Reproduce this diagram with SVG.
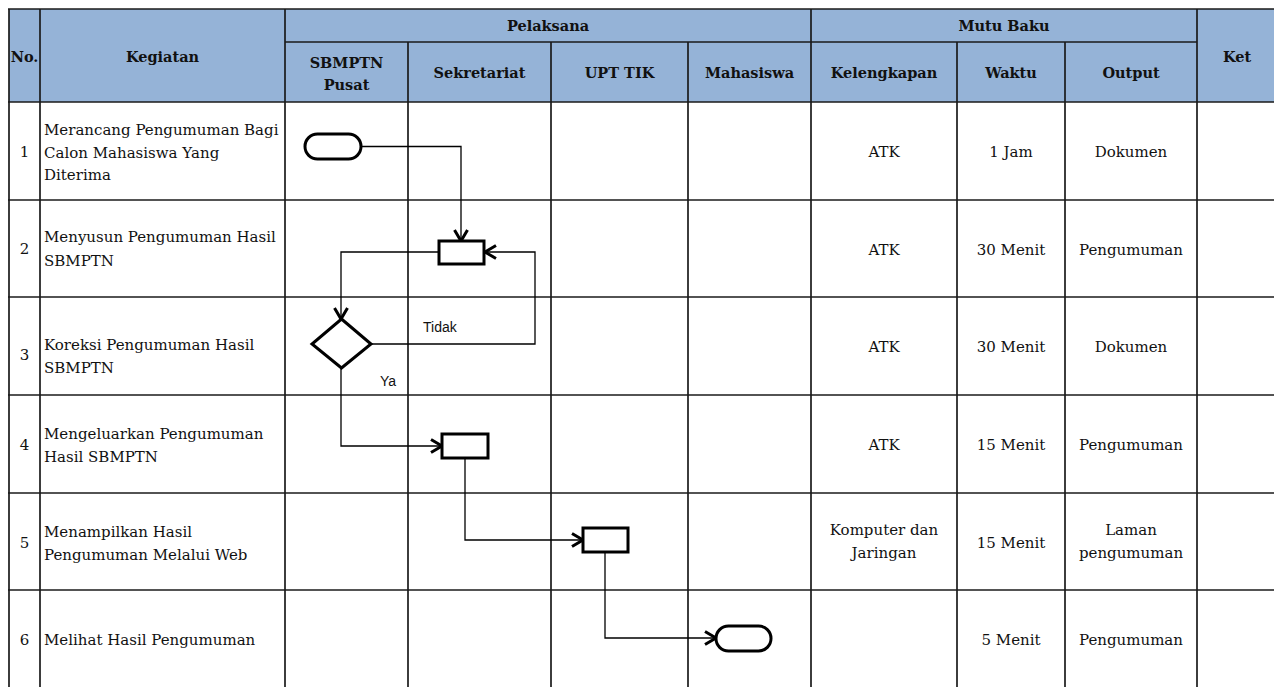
<svg xmlns="http://www.w3.org/2000/svg" width="1274" height="687" viewBox="0 0 1274 687">
<style>
.grid line{stroke:#1a1a1a;stroke-width:1.7}
.hd{font-family:"DejaVu Serif","Liberation Serif",serif;font-weight:bold;font-size:14.5px;fill:#111;text-anchor:middle}
.tx{font-family:"DejaVu Serif","Liberation Serif",serif;font-size:15px;fill:#111}
.c{text-anchor:middle}
.shape{fill:#fff;stroke:#000;stroke-width:3}
.conn path{fill:none;stroke:#000;stroke-width:1.3}
.lbl{font-family:"Liberation Sans",Arial,sans-serif;font-size:14px;fill:#111}
</style>
<defs>
<marker id="arr" markerUnits="userSpaceOnUse" markerWidth="16" markerHeight="16" refX="13" refY="8" orient="auto" overflow="visible">
<path d="M2,1.5 L13,8 L2,14.5" fill="none" stroke="#000" stroke-width="3" stroke-linejoin="miter"/>
</marker>
</defs>
<rect x="0" y="0" width="1274" height="687" fill="#fff"/>
<rect x="9" y="9" width="1265" height="93" fill="#95B3D7"/>
<g class="grid">
<line x1="8" y1="9" x2="1274" y2="9"/>
<line x1="285" y1="42" x2="1197" y2="42"/>
<line x1="8" y1="102" x2="1274" y2="102"/>
<line x1="8" y1="200" x2="1274" y2="200"/>
<line x1="8" y1="297" x2="1274" y2="297"/>
<line x1="8" y1="395" x2="1274" y2="395"/>
<line x1="8" y1="493" x2="1274" y2="493"/>
<line x1="8" y1="590" x2="1274" y2="590"/>
<line x1="9" y1="9" x2="9" y2="687"/>
<line x1="40" y1="9" x2="40" y2="687"/>
<line x1="285" y1="9" x2="285" y2="687"/>
<line x1="408" y1="42" x2="408" y2="687"/>
<line x1="551" y1="42" x2="551" y2="687"/>
<line x1="688" y1="42" x2="688" y2="687"/>
<line x1="811" y1="9" x2="811" y2="687"/>
<line x1="957" y1="42" x2="957" y2="687"/>
<line x1="1065" y1="42" x2="1065" y2="687"/>
<line x1="1197" y1="9" x2="1197" y2="687"/>
</g>
<g id="header">
<text class="hd" x="24.5" y="62">No.</text>
<text class="hd" x="162.5" y="62">Kegiatan</text>
<text class="hd" x="548" y="31">Pelaksana</text>
<text class="hd" x="1004" y="31">Mutu Baku</text>
<text class="hd" x="1237" y="62">Ket</text>
<text class="hd" x="346.5" y="68">SBMPTN</text>
<text class="hd" x="346.5" y="90">Pusat</text>
<text class="hd" x="479.5" y="78">Sekretariat</text>
<text class="hd" x="619.5" y="78">UPT TIK</text>
<text class="hd" x="749.5" y="78">Mahasiswa</text>
<text class="hd" x="884" y="78">Kelengkapan</text>
<text class="hd" x="1011" y="78">Waktu</text>
<text class="hd" x="1131" y="78">Output</text>
</g>
<g id="rows">
<text class="tx c" x="24.5" y="157">1</text>
<text class="tx" x="44" y="135">Merancang Pengumuman Bagi</text>
<text class="tx" x="44" y="158">Calon Mahasiswa Yang</text>
<text class="tx" x="44" y="180">Diterima</text>
<text class="tx c" x="884" y="157">ATK</text>
<text class="tx c" x="1011" y="157">1 Jam</text>
<text class="tx c" x="1131" y="157">Dokumen</text>

<text class="tx c" x="24.5" y="254">2</text>
<text class="tx" x="44" y="242">Menyusun Pengumuman Hasil</text>
<text class="tx" x="44" y="266">SBMPTN</text>
<text class="tx c" x="884" y="255">ATK</text>
<text class="tx c" x="1011" y="255">30 Menit</text>
<text class="tx c" x="1131" y="255">Pengumuman</text>

<text class="tx c" x="24.5" y="360">3</text>
<text class="tx" x="44" y="350">Koreksi Pengumuman Hasil</text>
<text class="tx" x="44" y="373">SBMPTN</text>
<text class="tx c" x="884" y="352">ATK</text>
<text class="tx c" x="1011" y="352">30 Menit</text>
<text class="tx c" x="1131" y="352">Dokumen</text>

<text class="tx c" x="24.5" y="450">4</text>
<text class="tx" x="44" y="439">Mengeluarkan Pengumuman</text>
<text class="tx" x="44" y="462">Hasil SBMPTN</text>
<text class="tx c" x="884" y="450">ATK</text>
<text class="tx c" x="1011" y="450">15 Menit</text>
<text class="tx c" x="1131" y="450">Pengumuman</text>

<text class="tx c" x="24.5" y="548">5</text>
<text class="tx" x="44" y="537">Menampilkan Hasil</text>
<text class="tx" x="44" y="560">Pengumuman Melalui Web</text>
<text class="tx c" x="884" y="535">Komputer dan</text>
<text class="tx c" x="884" y="558">Jaringan</text>
<text class="tx c" x="1011" y="548">15 Menit</text>
<text class="tx c" x="1131" y="535">Laman</text>
<text class="tx c" x="1131" y="558">pengumuman</text>

<text class="tx c" x="24.5" y="645">6</text>
<text class="tx" x="44" y="645">Melihat Hasil Pengumuman</text>
<text class="tx c" x="1011" y="645">5 Menit</text>
<text class="tx c" x="1131" y="645">Pengumuman</text>
</g>
<g id="connectors" class="conn">
<path d="M361,146.5 H461 V241" marker-end="url(#arr)"/>
<path d="M439,252 H341 V319" marker-end="url(#arr)"/>
<path d="M371,344 H535 V252 H485" marker-end="url(#arr)"/>
<path d="M341,368 V446 H442" marker-end="url(#arr)"/>
<path d="M465,458 V540 H583" marker-end="url(#arr)"/>
<path d="M605,552 V638 H716" marker-end="url(#arr)"/>
</g>
<g id="labels">
<text class="lbl" x="423" y="332">Tidak</text>
<text class="lbl" x="380" y="386">Ya</text>
</g>
<g id="start"><rect class="shape" x="305" y="134" width="56" height="25" rx="12.5"/></g>
<g id="step2"><rect class="shape" x="439" y="241" width="45" height="23"/></g>
<g id="decision"><polygon class="shape" points="341.5,319 371,344 341.5,368 312,344"/></g>
<g id="step4"><rect class="shape" x="442" y="434" width="46" height="24"/></g>
<g id="step5"><rect class="shape" x="583" y="528" width="45" height="24"/></g>
<g id="end"><rect class="shape" x="716" y="626" width="55" height="25" rx="12.5"/></g>
</svg>
